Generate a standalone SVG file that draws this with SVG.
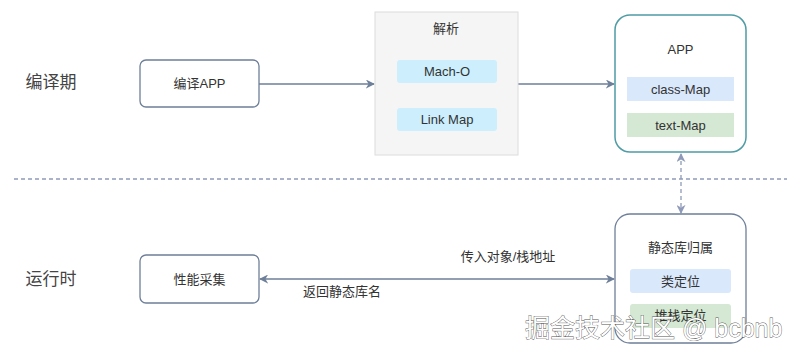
<svg xmlns="http://www.w3.org/2000/svg" width="800" height="357" viewBox="0 0 800 357">
<defs>
<style>
text{font-family:"Liberation Sans","Noto Sans CJK SC",sans-serif;text-anchor:middle;dominant-baseline:central;fill:#333}
.lbl{font-size:17px;fill:#444}
.t{font-size:13px}
.node{fill:#fff;stroke:#6e7f99;stroke-width:1.3}
.conn{stroke:#6e7f99;stroke-width:1.3;fill:none}
.dash{stroke:#8e9ab8;stroke-width:1.3;fill:none;stroke-dasharray:4 3}
.wm{font-size:25px;fill:#fff;stroke:#555;stroke-width:0.8;text-anchor:start;paint-order:stroke}
</style>
<marker id="ah" viewBox="0 0 10 10" refX="9" refY="5" markerWidth="9" markerHeight="9" markerUnits="userSpaceOnUse" orient="auto-start-reverse">
<path d="M0,0 L10,5 L0,10 L3,5 Z" fill="#6e7f99"/>
</marker>
<marker id="ah2" viewBox="0 0 10 10" refX="9" refY="5" markerWidth="9" markerHeight="9" markerUnits="userSpaceOnUse" orient="auto-start-reverse">
<path d="M0,0 L10,5 L0,10 L3,5 Z" fill="#8e9ab8"/>
</marker>
</defs>
<rect width="800" height="357" fill="#fff"/>
<text class="lbl" x="51" y="82">编译期</text>
<text class="lbl" x="51" y="279">运行时</text>
<g id="connectors">
<line class="dash" x1="14" y1="179" x2="787" y2="179"/>
<line class="conn" x1="259" y1="84" x2="374" y2="84" marker-end="url(#ah)"/>
<line class="conn" x1="518" y1="84" x2="614" y2="84" marker-end="url(#ah)"/>
<line class="dash" x1="681" y1="154" x2="681" y2="213" marker-start="url(#ah2)" marker-end="url(#ah2)"/>
<line class="conn" x1="260" y1="279" x2="614" y2="279" marker-start="url(#ah)" marker-end="url(#ah)"/>
<text class="t" x="508" y="256">传入对象/栈地址</text>
<text class="t" x="342" y="291">返回静态库名</text>
</g>
<g id="compile-app">
<rect class="node" x="140" y="60" width="119" height="47" rx="6"/>
<text class="t" x="199.5" y="83.5">编译APP</text>
</g>
<g id="parse">
<rect x="375" y="12" width="143" height="143" fill="#f5f5f5" stroke="#dcdcdc" stroke-width="1"/>
<text class="t" x="446" y="28">解析</text>
<rect x="397" y="60" width="100" height="23" rx="3" fill="#cdeffd"/>
<text class="t" x="447" y="71.5" fill="#222">Mach-O</text>
<rect x="397" y="108" width="100" height="23" rx="3" fill="#cdeffd"/>
<text class="t" x="447" y="119.5">Link Map</text>
</g>
<g id="app">
<rect x="615" y="15" width="131" height="137" rx="15" fill="#fff" stroke="#4e9ca6" stroke-width="1.5"/>
<text class="t" x="680.5" y="49">APP</text>
<rect x="627" y="77" width="107" height="24" fill="#dae8fc"/>
<text class="t" x="680.5" y="89">class-Map</text>
<rect x="627" y="113" width="107" height="24" fill="#d5e8d4"/>
<text class="t" x="680.5" y="125">text-Map</text>
</g>
<g id="perf">
<rect class="node" x="140" y="255" width="119" height="48" rx="6"/>
<text class="t" x="199.5" y="279">性能采集</text>
</g>
<g id="static-lib">
<rect class="node" x="615" y="214" width="131" height="129" rx="15"/>
<text class="t" x="680.5" y="247">静态库归属</text>
<rect x="630" y="269" width="101" height="24" rx="3" fill="#dae8fc"/>
<text class="t" x="680.5" y="281">类定位</text>
<rect x="630" y="304" width="101" height="24" rx="3" fill="#d5e8d4"/>
<text class="t" x="680.5" y="315">堆栈定位</text>
</g>
<text class="wm" x="525" y="328">掘金技术社区 @ bcbnb</text>
</svg>
